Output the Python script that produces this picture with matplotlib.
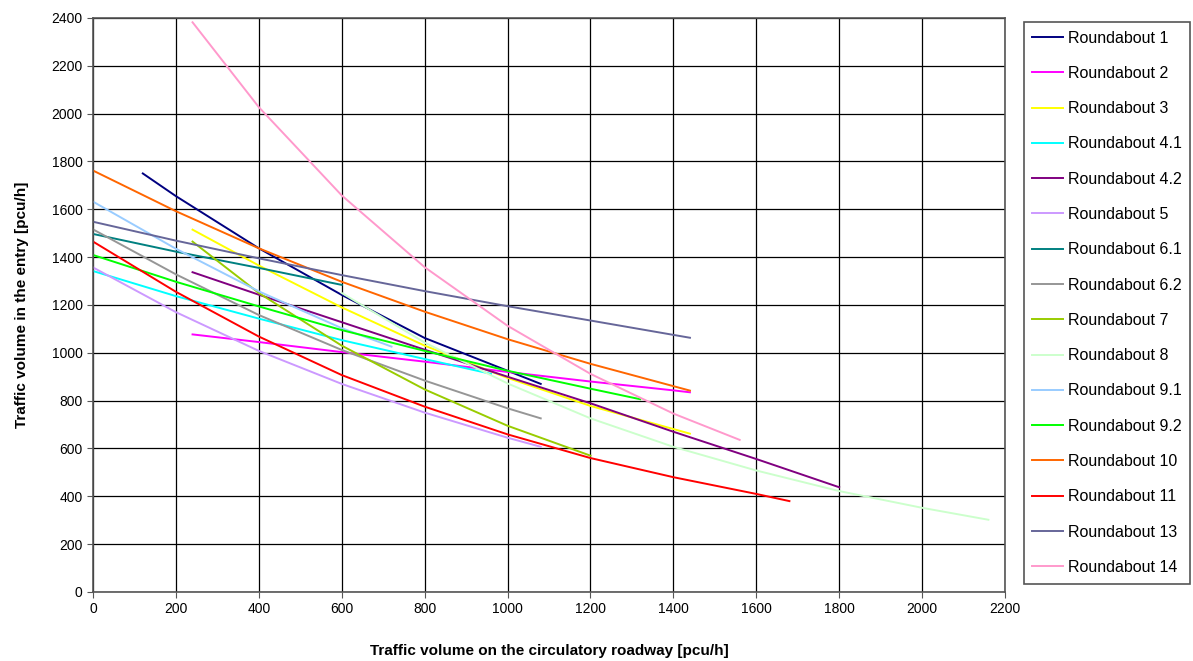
import matplotlib
matplotlib.use("Agg")
import matplotlib.pyplot as plt

plt.rcParams['font.family'] = ['Liberation Sans', 'DejaVu Sans']

# values (circulating flow -> entry capacity)
r1_x = [120, 200, 400, 600, 800, 1000, 1080]
r1_y = [1750, 1655, 1437, 1242, 1062, 925, 870]
r2_x = [240, 400, 600, 800, 1000, 1200, 1400, 1440]
r2_y = [1077, 1045, 1003, 963, 920, 880, 843, 835]
r3_x = [240, 400, 600, 800, 1000, 1200, 1440]
r3_y = [1515, 1365, 1190, 1030, 895, 778, 662]
r41_x = [0, 200, 400, 600, 800, 960]
r41_y = [1342, 1237, 1143, 1053, 974, 912]
r42_x = [240, 400, 600, 800, 1000, 1200, 1400, 1600, 1800]
r42_y = [1337, 1243, 1128, 1013, 900, 789, 670, 556, 438]
r5_x = [0, 200, 400, 600, 800, 1000, 1080]
r5_y = [1357, 1170, 1008, 870, 750, 645, 607]
r61_x = [0, 200, 400, 600]
r61_y = [1497, 1423, 1355, 1284]
r62_x = [0, 200, 400, 600, 800, 1000, 1080]
r62_y = [1516, 1328, 1158, 1012, 884, 768, 726]
r7_x = [240, 400, 600, 800, 1000, 1200]
r7_y = [1465, 1250, 1030, 847, 695, 570]
r8_x = [600, 800, 1000, 1200, 1400, 1600, 1800, 2000, 2160]
r8_y = [1250, 1043, 872, 726, 607, 508, 422, 352, 302]
r91_x = [0, 200, 400, 600, 720]
r91_y = [1632, 1435, 1257, 1103, 1026]
r92_x = [0, 200, 400, 600, 800, 1000, 1200, 1320]
r92_y = [1409, 1297, 1194, 1095, 1008, 925, 850, 806]
r10_x = [0, 200, 400, 600, 800, 1000, 1200, 1440]
r10_y = [1762, 1592, 1437, 1297, 1172, 1057, 954, 842]
r11_x = [0, 200, 400, 600, 800, 1000, 1200, 1400, 1600, 1680]
r11_y = [1465, 1255, 1068, 907, 775, 659, 560, 480, 410, 380]
r13_x = [0, 200, 400, 600, 800, 1000, 1200, 1440]
r13_y = [1548, 1469, 1395, 1325, 1258, 1195, 1135, 1063]
r14_x = [240, 400, 600, 800, 1000, 1200, 1400, 1560]
r14_y = [2382, 2027, 1658, 1358, 1113, 912, 746, 636]

labels = ["Roundabout 1", "Roundabout 2", "Roundabout 3", "Roundabout 4.1",
          "Roundabout 4.2", "Roundabout 5", "Roundabout 6.1", "Roundabout 6.2",
          "Roundabout 7", "Roundabout 8", "Roundabout 9.1", "Roundabout 9.2",
          "Roundabout 10", "Roundabout 11", "Roundabout 13", "Roundabout 14"]
xs = [r1_x, r2_x, r3_x, r41_x, r42_x, r5_x, r61_x, r62_x,
      r7_x, r8_x, r91_x, r92_x, r10_x, r11_x, r13_x, r14_x]
ys = [r1_y, r2_y, r3_y, r41_y, r42_y, r5_y, r61_y, r62_y,
      r7_y, r8_y, r91_y, r92_y, r10_y, r11_y, r13_y, r14_y]
colors = ["#000080", "#FF00FF", "#FFFF00", "#00FFFF", "#800080", "#CC99FF",
          "#008080", "#969696", "#99CC00", "#CCFFCC", "#99CCFF", "#00FF00",
          "#FF6600", "#FF0000", "#666699", "#FF99CC"]

fig = plt.figure(figsize=(11.93, 6.61), dpi=100)
ax = fig.add_axes([0.078, 0.1044, 0.7644, 0.8684])

for x, y, c, lab in zip(xs, ys, colors, labels):
    ax.plot(x, y, color=c, lw=1.4, label=lab)

ax.set_xlim(0, 2200)
ax.set_ylim(0, 2400)
ax.set_xticks(range(0, 2201, 200))
ax.set_yticks(range(0, 2401, 200))
ax.grid(True, color="black", lw=0.9)
ax.set_axisbelow(True)
ax.tick_params(labelsize=10, length=4, direction="out", color="#555555")
for s in ax.spines.values():
    s.set_color("#555555")
    s.set_linewidth(1.2)

ax.set_xlabel("Traffic volume on the circulatory roadway [pcu/h]",
              fontsize=11, fontweight="bold", labelpad=20)
ax.set_ylabel("Traffic volume in the entry [pcu/h]",
              fontsize=11, fontweight="bold", labelpad=16)

leg = fig.legend(loc="upper left", bbox_to_anchor=(0.858, 0.967),
                 fontsize=11.5, labelspacing=1.27, handlelength=1.9,
                 handletextpad=0.3, borderpad=0.55, borderaxespad=0,
                 fancybox=False, framealpha=1, edgecolor="#555555")
leg.get_frame().set_linewidth(1.2)

fig.savefig("out.png", dpi=100)
